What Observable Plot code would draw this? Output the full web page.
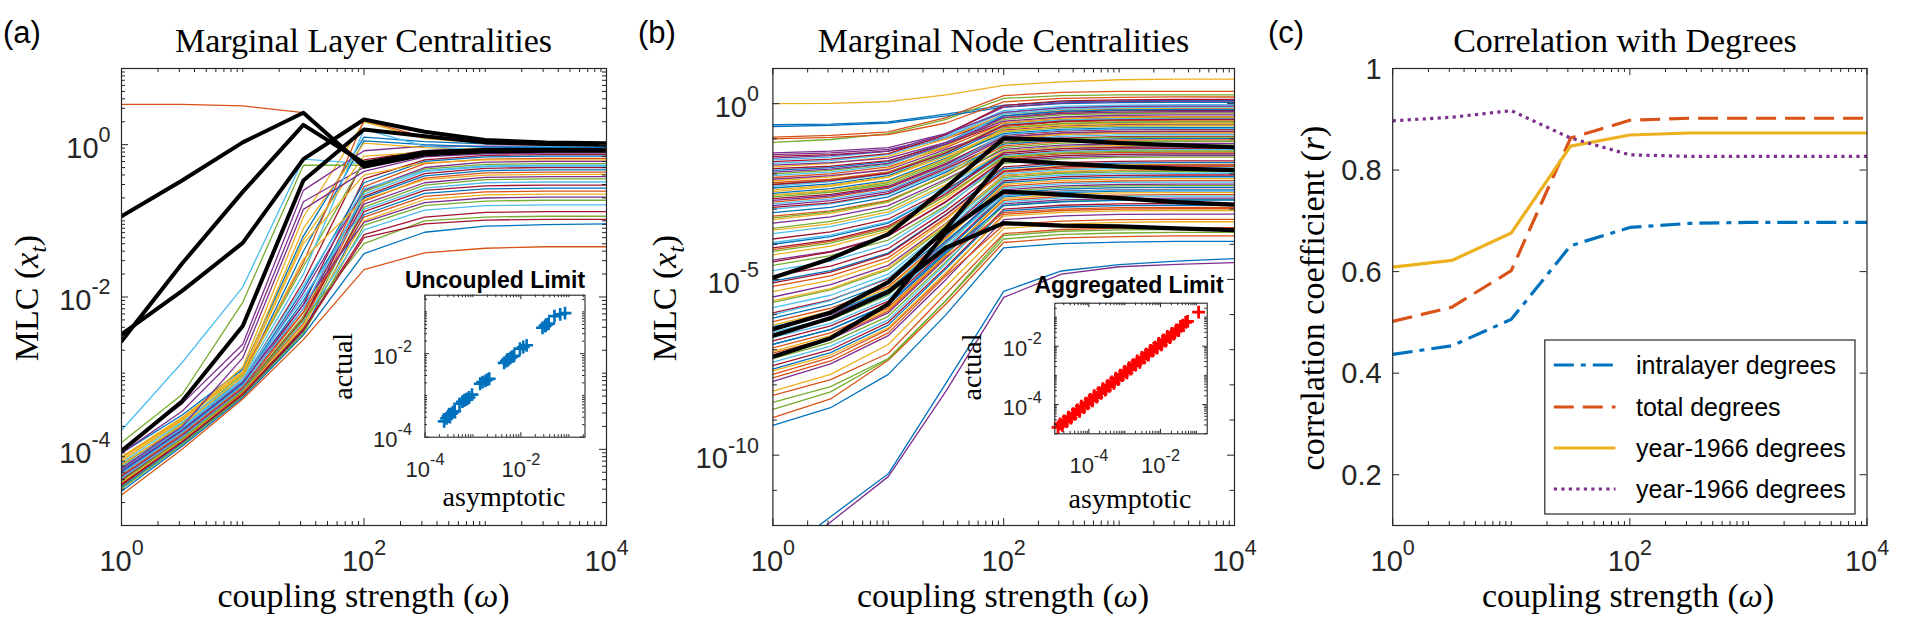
<!DOCTYPE html>
<html>
<head>
<meta charset="utf-8">
<script src="https://cdn.jsdelivr.net/npm/d3@7"></script>
<script src="https://cdn.jsdelivr.net/npm/@observablehq/plot@0.6"></script>
<style>
  html, body { margin: 0; padding: 0; background: #fff; }
  #fig { position: relative; width: 1915px; height: 636px; overflow: hidden; background: #fff; }
</style>
</head>
<body>
<div id="fig"></div>
<script>
// ---- shared coupling-strength grid ----
const omega = [1, 3.162, 10, 31.62, 100, 316.2, 1000, 3162, 10000];
const palette = ["#0072BD", "#D95319", "#EDB120", "#7E2F8E", "#77AC30", "#4DBEEE", "#A2142F"];

// ---- (a) marginal layer centralities, log10 values per layer ----
const layerLines = [
  [-4.05, -3.55, -2.95, -1.20, 0.10, 0.04, 0.01, 0.00, 0.00],
  [0.53, 0.53, 0.51, 0.42, -0.25, -0.12, -0.10, -0.10, -0.10],
  [-4.15, -3.62, -2.92, -0.95, 0.30, 0.08, 0.02, 0.01, 0.01],
  [-4.00, -3.40, -2.62, -0.60, -0.08, -0.02, -0.02, -0.02, -0.02],
  [-3.91, -3.28, -2.07, -0.27, -0.27, -0.10, -0.05, -0.04, -0.04],
  [-3.75, -2.86, -1.87, -0.19, -0.25, -0.08, -0.04, -0.03, -0.03],
  [-4.20, -3.70, -3.10, -1.80, -0.20, -0.08, -0.05, -0.05, -0.05],
  [-4.25, -3.72, -3.05, -1.40, 0.05, 0.00, -0.03, -0.04, -0.04],
  [-4.10, -3.60, -3.00, -1.55, 0.32, 0.10, 0.03, 0.01, 0.00],
  [-4.10, -3.58, -2.98, -1.10, 0.02, -0.04, -0.06, -0.06, -0.06],
  [-4.05, -3.50, -2.70, -0.75, -0.30, -0.12, -0.09, -0.09, -0.09],
  [-4.22, -3.66, -3.02, -1.60, -0.22, -0.12, -0.10, -0.10, -0.10],
  [-4.18, -3.64, -3.06, -1.70, 0.20, -0.02, -0.08, -0.09, -0.09],
  [-4.35, -3.80, -3.18, -2.10, -0.45, -0.20, -0.14, -0.13, -0.13],
  [-4.28, -3.74, -3.12, -1.90, -0.50, -0.22, -0.16, -0.15, -0.15],
  [-4.40, -3.85, -3.20, -2.20, -0.55, -0.25, -0.19, -0.18, -0.18],
  [-4.12, -3.60, -3.00, -1.30, -0.40, -0.24, -0.20, -0.20, -0.20],
  [-4.32, -3.78, -3.15, -1.95, -0.60, -0.30, -0.23, -0.22, -0.22],
  [-4.38, -3.82, -3.22, -2.25, -0.62, -0.32, -0.26, -0.25, -0.25],
  [-4.24, -3.70, -3.08, -1.85, -0.58, -0.34, -0.28, -0.27, -0.27],
  [-4.45, -3.88, -3.25, -2.30, -0.68, -0.38, -0.31, -0.30, -0.30],
  [-4.30, -3.76, -3.14, -2.05, -0.70, -0.41, -0.34, -0.33, -0.33],
  [-4.42, -3.86, -3.24, -2.35, -0.74, -0.44, -0.37, -0.36, -0.36],
  [-4.20, -3.68, -3.05, -1.50, -0.72, -0.46, -0.40, -0.39, -0.39],
  [-4.36, -3.82, -3.20, -2.15, -0.78, -0.50, -0.43, -0.42, -0.42],
  [-4.48, -3.90, -3.28, -2.40, -0.82, -0.53, -0.46, -0.45, -0.45],
  [-4.26, -3.72, -3.10, -2.00, -0.85, -0.57, -0.50, -0.49, -0.49],
  [-4.40, -3.84, -3.22, -2.28, -0.88, -0.60, -0.54, -0.53, -0.53],
  [-4.50, -3.92, -3.30, -2.45, -0.92, -0.64, -0.58, -0.57, -0.57],
  [-4.34, -3.80, -3.18, -2.20, -0.95, -0.68, -0.62, -0.61, -0.61],
  [-4.44, -3.88, -3.26, -2.38, -1.00, -0.72, -0.66, -0.65, -0.65],
  [-4.28, -3.75, -3.12, -2.10, -1.02, -0.76, -0.70, -0.69, -0.69],
  [-4.52, -3.94, -3.30, -2.48, -1.06, -0.80, -0.74, -0.73, -0.73],
  [-4.38, -3.84, -3.22, -2.32, -1.12, -0.86, -0.80, -0.79, -0.79],
  [-4.46, -3.90, -3.27, -2.42, -1.18, -0.95, -0.89, -0.88, -0.88],
  [-4.55, -3.96, -3.32, -2.50, -1.43, -1.15, -1.07, -1.05, -1.04],
  [-4.60, -4.00, -3.34, -2.56, -1.64, -1.42, -1.36, -1.34, -1.34],
  [-4.15, -3.62, -3.00, -1.25, -0.15, -0.10, -0.08, -0.07, -0.07],
  [-4.25, -3.70, -2.80, -0.85, -0.35, -0.16, -0.12, -0.11, -0.11],
  [-4.42, -3.86, -3.23, -2.30, -1.30, -1.00, -0.95, -0.94, -0.94],
  [-4.32, -3.78, -3.16, -2.15, -0.65, -0.35, -0.29, -0.28, -0.28],
  [-4.47, -3.90, -3.28, -2.44, -1.22, -1.04, -0.99, -0.98, -0.98]
];
const layerHighlight = [
  [-0.94, -0.47, 0.03, 0.42, -0.29, -0.13, -0.09, -0.08, -0.08],
  [-2.58, -1.56, -0.62, 0.26, -0.24, -0.10, -0.07, -0.07, -0.07],
  [-2.49, -1.92, -1.29, -0.19, 0.33, 0.17, 0.06, 0.03, 0.02],
  [-4.02, -3.37, -2.38, -0.47, 0.20, 0.11, 0.03, 0.01, 0.00]
];

// ---- (b) marginal node centralities, log10 values per node ----
const nodeLines = [
  [-0.60, -0.58, -0.52, -0.30, -0.05, 0.05, 0.08, 0.09, 0.09],
  [-0.95, -0.90, -0.80, -0.40, 0.23, 0.32, 0.35, 0.35, 0.35],
  [0.00, 0.01, 0.06, 0.25, 0.52, 0.62, 0.68, 0.70, 0.70],
  [-1.45, -1.40, -1.30, -0.95, -0.35, -0.20, -0.15, -0.14, -0.14],
  [-1.10, -1.02, -0.85, -0.45, 0.15, 0.23, 0.25, 0.25, 0.25],
  [-1.60, -1.52, -1.35, -0.90, -0.20, -0.08, -0.04, -0.03, -0.03],
  [-1.50, -1.45, -1.35, -1.00, -0.40, -0.25, -0.20, -0.19, -0.19],
  [-0.65, -0.62, -0.55, -0.35, -0.10, 0.00, 0.03, 0.04, 0.04],
  [-1.00, -0.96, -0.88, -0.55, 0.05, 0.15, 0.18, 0.19, 0.19],
  [-1.80, -1.70, -1.50, -1.00, -0.30, -0.18, -0.14, -0.13, -0.13],
  [-1.55, -1.48, -1.35, -0.85, -0.10, 0.02, 0.06, 0.07, 0.07],
  [-2.00, -1.90, -1.72, -1.20, -0.45, -0.32, -0.28, -0.27, -0.27],
  [-1.70, -1.62, -1.45, -0.95, -0.25, -0.12, -0.08, -0.07, -0.07],
  [-1.65, -1.58, -1.42, -0.88, -0.05, 0.08, 0.11, 0.12, 0.12],
  [-1.90, -1.82, -1.65, -1.10, -0.35, -0.22, -0.18, -0.17, -0.17],
  [-2.10, -2.00, -1.80, -1.25, -0.55, -0.42, -0.38, -0.37, -0.37],
  [-2.20, -2.08, -1.85, -1.20, -0.40, -0.28, -0.24, -0.23, -0.23],
  [-1.75, -1.68, -1.55, -1.10, -0.50, -0.38, -0.33, -0.32, -0.32],
  [-2.30, -2.18, -1.95, -1.35, -0.60, -0.48, -0.44, -0.43, -0.43],
  [-2.05, -1.95, -1.75, -1.15, -0.30, -0.16, -0.11, -0.10, -0.10],
  [-1.85, -1.78, -1.62, -1.15, -0.55, -0.44, -0.40, -0.39, -0.39],
  [-2.40, -2.28, -2.05, -1.45, -0.70, -0.58, -0.54, -0.53, -0.53],
  [-2.25, -2.15, -1.95, -1.40, -0.65, -0.52, -0.48, -0.47, -0.47],
  [-2.50, -2.35, -2.10, -1.40, -0.55, -0.43, -0.39, -0.38, -0.38],
  [-2.15, -2.05, -1.88, -1.30, -0.75, -0.64, -0.60, -0.59, -0.59],
  [-2.60, -2.48, -2.25, -1.60, -0.80, -0.68, -0.64, -0.63, -0.63],
  [-2.35, -2.22, -2.00, -1.40, -0.60, -0.47, -0.43, -0.42, -0.42],
  [-2.70, -2.58, -2.35, -1.70, -0.90, -0.78, -0.74, -0.73, -0.73],
  [-2.55, -2.42, -2.18, -1.55, -0.85, -0.73, -0.69, -0.68, -0.68],
  [-2.80, -2.66, -2.40, -1.75, -0.95, -0.84, -0.80, -0.79, -0.79],
  [-2.45, -2.32, -2.08, -1.50, -0.78, -0.66, -0.62, -0.61, -0.61],
  [-2.90, -2.76, -2.50, -1.80, -1.00, -0.88, -0.84, -0.83, -0.83],
  [-2.65, -2.52, -2.30, -1.65, -0.70, -0.56, -0.52, -0.51, -0.51],
  [-3.00, -2.85, -2.58, -1.90, -1.05, -0.93, -0.89, -0.88, -0.88],
  [-2.95, -2.82, -2.55, -1.85, -1.10, -0.98, -0.94, -0.93, -0.93],
  [-3.10, -2.95, -2.65, -1.95, -1.15, -1.04, -1.00, -0.99, -0.99],
  [-3.20, -3.05, -2.75, -2.05, -1.20, -1.08, -1.04, -1.03, -1.03],
  [-3.30, -3.12, -2.80, -2.00, -1.00, -0.88, -0.84, -0.83, -0.83],
  [-3.40, -3.22, -2.90, -2.15, -1.30, -1.18, -1.14, -1.13, -1.13],
  [-3.55, -3.35, -3.00, -2.20, -1.25, -1.12, -1.08, -1.07, -1.07],
  [-3.70, -3.50, -3.15, -2.35, -1.40, -1.28, -1.24, -1.23, -1.23],
  [-3.85, -3.65, -3.28, -2.45, -1.45, -1.33, -1.29, -1.28, -1.28],
  [-4.00, -3.78, -3.40, -2.50, -1.35, -1.22, -1.18, -1.17, -1.17],
  [-4.15, -3.92, -3.52, -2.62, -1.55, -1.43, -1.39, -1.38, -1.38],
  [-4.30, -4.05, -3.62, -2.70, -1.50, -1.37, -1.33, -1.32, -1.32],
  [-4.45, -4.20, -3.75, -2.80, -1.65, -1.53, -1.49, -1.48, -1.48],
  [-4.60, -4.32, -3.88, -2.90, -1.70, -1.57, -1.53, -1.52, -1.52],
  [-4.75, -4.48, -4.00, -2.95, -1.60, -1.48, -1.44, -1.43, -1.43],
  [-4.90, -4.62, -4.12, -3.05, -1.80, -1.68, -1.64, -1.63, -1.63],
  [-5.05, -4.75, -4.25, -3.15, -1.85, -1.73, -1.69, -1.68, -1.68],
  [-5.20, -4.90, -4.38, -3.25, -1.95, -1.84, -1.80, -1.79, -1.79],
  [-5.35, -5.02, -4.48, -3.30, -1.90, -1.78, -1.74, -1.73, -1.73],
  [-5.50, -5.15, -4.60, -3.40, -2.05, -1.94, -1.90, -1.89, -1.89],
  [-5.65, -5.30, -4.72, -3.48, -2.10, -1.98, -1.94, -1.93, -1.93],
  [-5.80, -5.45, -4.85, -3.55, -2.00, -1.88, -1.84, -1.83, -1.83],
  [-5.95, -5.58, -4.98, -3.65, -2.20, -2.08, -2.04, -2.03, -2.03],
  [-6.10, -5.72, -5.10, -3.75, -2.25, -2.13, -2.09, -2.08, -2.08],
  [-6.20, -5.82, -5.20, -3.80, -2.35, -2.24, -2.20, -2.19, -2.19],
  [-6.30, -5.90, -5.25, -3.85, -2.30, -2.18, -2.14, -2.13, -2.13],
  [-6.40, -6.00, -5.35, -3.95, -2.45, -2.34, -2.30, -2.29, -2.29],
  [-6.55, -6.15, -5.45, -4.00, -2.50, -2.38, -2.34, -2.33, -2.33],
  [-6.65, -6.25, -5.55, -4.10, -2.40, -2.28, -2.24, -2.23, -2.23],
  [-6.75, -6.32, -5.62, -4.15, -2.60, -2.49, -2.45, -2.44, -2.44],
  [-6.85, -6.42, -5.70, -4.20, -2.65, -2.53, -2.49, -2.48, -2.48],
  [-6.95, -6.52, -5.80, -4.30, -2.75, -2.64, -2.60, -2.59, -2.59],
  [-7.05, -6.60, -5.85, -4.30, -2.70, -2.58, -2.54, -2.53, -2.53],
  [-7.15, -6.70, -5.95, -4.40, -2.85, -2.74, -2.70, -2.69, -2.69],
  [-7.25, -6.80, -6.05, -4.50, -2.90, -2.78, -2.74, -2.73, -2.73],
  [-7.35, -6.90, -6.15, -4.55, -2.80, -2.68, -2.64, -2.63, -2.63],
  [-7.45, -7.00, -6.22, -4.65, -3.00, -2.89, -2.85, -2.84, -2.84],
  [-7.55, -7.08, -6.30, -4.70, -3.05, -2.94, -2.90, -2.89, -2.89],
  [-7.70, -7.22, -6.42, -4.85, -3.15, -3.04, -3.00, -2.99, -2.99],
  [-8.18, -7.70, -6.85, -5.20, -3.55, -3.43, -3.38, -3.36, -3.36],
  [-7.90, -7.40, -6.60, -5.00, -3.30, -3.19, -3.15, -3.14, -3.14],
  [-8.50, -8.05, -7.25, -5.60, -3.85, -3.72, -3.68, -3.66, -3.66],
  [-6.00, -5.60, -4.95, -3.60, -2.15, -2.03, -1.99, -1.98, -1.98],
  [-4.50, -4.22, -3.76, -2.78, -1.60, -1.48, -1.44, -1.43, -1.43],
  [-9.15, -8.65, -7.70, -6.00, -4.10, -3.98, -3.94, -3.92, -3.92],
  [-8.93, -8.40, -7.30, -5.70, -3.95, -3.82, -3.78, -3.76, -3.76],
  [-3.60, -3.42, -3.08, -2.30, -1.35, -1.23, -1.19, -1.18, -1.18],
  [-2.75, -2.62, -2.38, -1.72, -0.95, -0.83, -0.79, -0.78, -0.78],
  [-8.70, -8.20, -7.27, -5.60, -3.75, -3.63, -3.59, -3.58, -3.58],
  [-3.95, -3.74, -3.36, -2.50, -1.48, -1.36, -1.32, -1.31, -1.31],
  [-2.30, -2.19, -1.98, -1.40, -0.62, -0.50, -0.46, -0.45, -0.45],
  [-6.35, -5.96, -5.30, -3.90, -2.55, -2.43, -2.39, -2.38, -2.38],
  [-7.80, -7.32, -6.52, -4.90, -3.45, -3.34, -3.30, -3.29, -3.29],
  [-5.60, -5.26, -4.68, -3.42, -2.05, -1.93, -1.89, -1.88, -1.88],
  [-1.95, -1.86, -1.70, -1.15, -0.40, -0.28, -0.24, -0.23, -0.23],
  [-4.20, -3.97, -3.56, -2.62, -1.52, -1.40, -1.36, -1.35, -1.35],
  [-2.85, -2.71, -2.46, -1.78, -0.88, -0.76, -0.72, -0.71, -0.71],
  [-5.10, -4.79, -4.28, -3.16, -1.92, -1.80, -1.76, -1.75, -1.75],
  [-6.85, -6.42, -5.72, -4.25, -2.90, -2.79, -2.75, -2.74, -2.74],
  [-7.10, -6.66, -5.90, -4.35, -3.10, -3.00, -2.96, -2.95, -2.95],
  [-2.60, -2.47, -2.22, -1.58, -0.72, -0.60, -0.56, -0.55, -0.55],
  [-1.40, -1.35, -1.25, -0.85, -0.25, -0.12, -0.08, -0.07, -0.07],
  [-3.25, -3.08, -2.78, -2.05, -1.12, -1.00, -0.96, -0.95, -0.95],
  [-6.50, -6.10, -5.42, -3.98, -2.62, -2.50, -2.46, -2.45, -2.45],
  [-4.10, -3.88, -3.48, -2.56, -1.40, -1.28, -1.24, -1.23, -1.23],
  [-13.0, -11.75, -10.53, -7.95, -5.34, -4.76, -4.58, -4.48, -4.41],
  [-8.30, -7.85, -7.10, -5.40, -3.70, -3.58, -3.54, -3.53, -3.53],
  [-7.60, -7.15, -6.38, -4.80, -3.20, -3.09, -3.05, -3.04, -3.04],
  [-13.2, -11.9, -10.61, -8.18, -5.51, -4.85, -4.64, -4.57, -4.52]
];
const nodeHighlight = [
  [-4.95, -4.41, -3.71, -2.38, -0.99, -1.03, -1.12, -1.18, -1.24],
  [-6.42, -5.94, -5.08, -3.55, -1.60, -1.70, -1.79, -1.85, -1.89],
  [-7.20, -6.67, -5.70, -3.65, -2.50, -2.59, -2.69, -2.80, -2.87],
  [-6.60, -6.10, -5.35, -4.10, -3.40, -3.47, -3.49, -3.55, -3.60]
];

// ---- insets: log10 asymptotic vs actual ----
const uncoupledAsymptotic = [-3.60, -3.55, -3.52, -3.48, -3.45, -3.42, -3.38, -3.50, -3.28, -3.22, -3.18, -3.12, -3.08, -3.15, -3.02,
  -2.85, -2.80, -2.74, -2.70, -2.66, -2.35, -2.30, -2.26, -2.22, -2.18, -2.28, -2.14, -2.02, -1.95, -1.88,
  -1.55, -1.50, -1.46, -1.42, -1.48, -1.30, -1.18, -1.08];
const uncoupledActual = [-3.62, -3.55, -3.50, -3.52, -3.44, -3.40, -3.38, -3.45, -3.20, -3.15, -3.12, -3.08, -3.05, -3.10, -2.98,
  -2.72, -2.68, -2.65, -2.62, -2.60, -2.22, -2.18, -2.15, -2.10, -2.07, -2.14, -2.05, -1.88, -1.84, -1.80,
  -1.38, -1.34, -1.30, -1.28, -1.32, -1.10, -1.06, -1.03];
const aggregatedAsymptotic = [-4.86, -4.80, -4.74, -4.69, -4.62, -4.57, -4.50, -4.44, -4.39, -4.32, -4.26, -4.21, -4.14, -4.08,
  -4.03, -3.96, -3.90, -3.85, -3.78, -3.72, -3.66, -3.61, -3.54, -3.48, -3.43, -3.36, -3.30, -3.25, -3.18, -3.12,
  -3.07, -3.00, -2.94, -2.88, -2.83, -2.76, -2.70, -2.65, -2.58, -2.52, -2.47, -2.40, -2.34, -2.28, -2.23, -2.16,
  -2.10, -2.05, -1.98, -1.92, -1.86, -1.81, -1.74, -1.68, -1.63, -1.56, -1.50, -1.44, -1.38, -1.30, -1.25, -0.94];
const aggregatedActual = [-4.78, -4.66, -4.71, -4.56, -4.58, -4.43, -4.46, -4.31, -4.33, -4.18, -4.23, -4.05, -4.10, -3.95,
  -3.97, -3.82, -3.87, -3.69, -3.74, -3.59, -3.61, -3.45, -3.50, -3.35, -3.37, -3.22, -3.27, -3.09, -3.14, -2.99,
  -3.01, -2.86, -2.91, -2.73, -2.78, -2.63, -2.65, -2.50, -2.55, -2.38, -2.41, -2.27, -2.30, -2.14, -2.17, -2.03,
  -2.06, -1.90, -1.95, -1.78, -1.82, -1.66, -1.70, -1.56, -1.58, -1.44, -1.46, -1.32, -1.28, -1.18, -1.15, -0.83];

// ---- (c) correlation coefficients ----
const corrIntralayer = [0.437, 0.454, 0.506, 0.651, 0.687, 0.695, 0.697, 0.697, 0.697];
const corrTotal      = [0.502, 0.530, 0.602, 0.863, 0.898, 0.902, 0.902, 0.902, 0.902];
const corrYear       = [0.609, 0.622, 0.676, 0.847, 0.869, 0.873, 0.873, 0.873, 0.873];
const corrYearAlt    = [0.897, 0.904, 0.917, 0.863, 0.830, 0.827, 0.827, 0.827, 0.827];
const legendLabels = ["intralayer degrees", "total degrees", "year-1966 degrees", "year-1966 degrees"];

// ---- tick values ----
const omegaTicks = [1, 100, 10000];
const layerTicks = [1e-4, 1e-2, 1];
const nodeTicks = [1e-10, 1e-5, 1];
const corrTicks = [0.2, 0.4, 0.6, 0.8, 1];
const corrTickLabels = ["0.2", "0.4", "0.6", "0.8", "1"];
const insetTicks = [1e-4, 1e-2];
const panelTitles = ["Marginal Layer Centralities", "Marginal Node Centralities", "Correlation with Degrees"];
const panelTags = ["(a)", "(b)", "(c)"];

// ---------------------------------------------------------------
const fig = document.getElementById("fig");
const SANS = "'Liberation Sans', Arial, Helvetica, sans-serif";
const SERIF = "'Liberation Serif', 'Times New Roman', serif";
const INK = "#262626";
const pow10 = d => "10^" + Math.round(Math.log10(d));
const baseStyle = {fontFamily: SANS, color: INK, background: "none", overflow: "visible"};

function logMinor(lo, hi, majors, decadesOnly = false) {
  const out = [];
  for (let e = Math.floor(Math.log10(lo)); e <= Math.ceil(Math.log10(hi)); e++) {
    for (let k = 1; k <= (decadesOnly ? 1 : 9); k++) {
      const v = k * Math.pow(10, e);
      if (v >= lo * 0.999 && v <= hi * 1.001 && !majors.some(m => Math.abs(m - v) / v < 1e-6)) out.push(v);
    }
  }
  return out;
}

// inward ticks on all four sides of the frame
function boxTicks({W, H, xMaj, xMin, yMaj, yMin, major, minor}) {
  const o = {stroke: INK, strokeWidth: 1};
  return [
    Plot.tickX(xMaj, {...o, insetTop: H - major}),
    Plot.tickX(xMaj, {...o, insetBottom: H - major}),
    Plot.tickX(xMin, {...o, insetTop: H - minor}),
    Plot.tickX(xMin, {...o, insetBottom: H - minor}),
    Plot.tickY(yMaj, {...o, insetRight: W - major}),
    Plot.tickY(yMaj, {...o, insetLeft: W - major}),
    Plot.tickY(yMin, {...o, insetRight: W - minor}),
    Plot.tickY(yMin, {...o, insetLeft: W - minor})
  ];
}

// turn "10^k" tick labels into 10 with a raised exponent
function supify(svg, base) {
  d3.select(svg).selectAll("text").each(function () {
    const m = /^10\^(-?\d+)$/.exec(this.textContent);
    if (!m) return;
    const t = d3.select(this).text(null);
    t.append("tspan").text("10");
    t.append("tspan").attr("dy", -0.55 * base).attr("font-size", 0.74 * base).text(m[1]);
  });
}

function addText(svg, x, y, parts, {size, family = SERIF, anchor = "middle", rotate = 0, weight = "normal", fill = "#000"}) {
  const t = d3.select(svg).append("text")
    .attr("transform", `translate(${x},${y})` + (rotate ? ` rotate(${rotate})` : ""))
    .attr("text-anchor", anchor).attr("font-family", family).attr("font-size", size)
    .attr("font-weight", weight).attr("fill", fill);
  for (const p of [].concat(parts)) {
    const part = typeof p === "string" ? {t: p} : p;
    const s = t.append("tspan").text(part.t);
    if (part.it) s.attr("font-style", "italic");
    if (part.dy) s.attr("dy", part.dy);
    if (part.fs) s.attr("font-size", part.fs);
  }
  return t;
}

function place(svg, left, top) {
  svg.style.position = "absolute";
  svg.style.left = left + "px";
  svg.style.top = top + "px";
  fig.appendChild(svg);
  return svg;
}

const toRows = (lines, colorOf) =>
  lines.flatMap((vals, i) => vals.map((e, j) => ({series: i, w: omega[j], v: Math.pow(10, e), c: colorOf(i)})));

const mlcLabel = ["MLC (", {t: "x", it: true}, {t: "t", it: true, dy: 8, fs: 23}, {t: ")", dy: -8}];
const omegaLabel = ["coupling strength (", {t: "ω", it: true}, ")"];
const xMinor = logMinor(1, 1e4, omegaTicks);
const TOP = 68, BOTTOM = 111, FH = 636 - TOP - BOTTOM;

// ---------- panel (a) ----------
{
  const ml = 121, mr = 34, width = 640;
  const svg = Plot.plot({
    width, height: 636, marginLeft: ml, marginRight: mr, marginTop: TOP, marginBottom: BOTTOM,
    x: {type: "log", domain: [1, 1e4]},
    y: {type: "log", domain: [1e-5, 10]},
    color: {type: "identity"},
    style: baseStyle,
    marks: [
      Plot.line(toRows(layerLines, i => palette[i % 7]), {x: "w", y: "v", z: "series", stroke: d => d.c, strokeWidth: 1.3, clip: true}),
      Plot.line(toRows(layerHighlight, () => "#000"), {x: "w", y: "v", z: "series", stroke: "#000", strokeWidth: 4, clip: true}),
      ...boxTicks({W: width - ml - mr, H: FH, xMaj: omegaTicks, xMin: xMinor,
        yMaj: layerTicks, yMin: logMinor(1e-5, 10, layerTicks), major: 7, minor: 4}),
      Plot.frame({stroke: INK, strokeWidth: 1.2}),
      Plot.axisX({ticks: omegaTicks, tickSize: 0, tickPadding: 25, tickFormat: pow10, fontSize: 29, label: null}),
      Plot.axisY({ticks: layerTicks, tickSize: 0, tickPadding: 11, tickFormat: pow10, fontSize: 29, label: null, dy: 4})
    ]
  });
  supify(svg, 29);
  addText(svg, 3, 43, panelTags[0], {size: 31, family: SANS, anchor: "start"});
  addText(svg, 363.5, 52, panelTitles[0], {size: 34});
  addText(svg, 363.5, 607, omegaLabel, {size: 34});
  addText(svg, 38, 298, mlcLabel, {size: 34, rotate: -90});
  place(svg, 0, 0);
}

// ---------- panel (b) ----------
{
  const left = 630, ml = 142.4, mr = 26, width = 630;
  const svg = Plot.plot({
    width, height: 636, marginLeft: ml, marginRight: mr, marginTop: TOP, marginBottom: BOTTOM,
    x: {type: "log", domain: [1, 1e4]},
    y: {type: "log", domain: [1e-12, 10]},
    color: {type: "identity"},
    style: baseStyle,
    marks: [
      Plot.line(toRows(nodeLines, i => palette[i % 7]), {x: "w", y: "v", z: "series", stroke: d => d.c, strokeWidth: 1.3, clip: true}),
      Plot.line(toRows(nodeHighlight, () => "#000"), {x: "w", y: "v", z: "series", stroke: "#000", strokeWidth: 4.2, clip: true}),
      ...boxTicks({W: width - ml - mr, H: FH, xMaj: omegaTicks, xMin: xMinor,
        yMaj: nodeTicks, yMin: logMinor(1e-12, 10, nodeTicks, true), major: 7, minor: 4.5}),
      Plot.frame({stroke: INK, strokeWidth: 1.2}),
      Plot.axisX({ticks: omegaTicks, tickSize: 0, tickPadding: 25, tickFormat: pow10, fontSize: 29, label: null}),
      Plot.axisY({ticks: nodeTicks, tickSize: 0, tickPadding: 14, tickFormat: pow10, fontSize: 29, label: null, dy: 4})
    ]
  });
  supify(svg, 29);
  addText(svg, 8, 43, panelTags[1], {size: 31, family: SANS, anchor: "start"});
  addText(svg, 373.5, 52, panelTitles[1], {size: 34});
  addText(svg, 373, 607, omegaLabel, {size: 34});
  addText(svg, 45.5, 298, mlcLabel, {size: 34, rotate: -90});
  place(svg, left, 0);
}

// ---------- panel (c) ----------
{
  const left = 1265, ml = 127.2, mr = 48.5, width = 650;
  const series = [
    {values: corrIntralayer, color: "#0072BD", dash: "20,7,5,7"},
    {values: corrTotal, color: "#D95319", dash: "20,9"},
    {values: corrYear, color: "#EDB120", dash: null},
    {values: corrYearAlt, color: "#7E2F8E", dash: "3.2,4.3"}
  ];
  const svg = Plot.plot({
    width, height: 636, marginLeft: ml, marginRight: mr, marginTop: TOP, marginBottom: BOTTOM,
    x: {type: "log", domain: [1, 1e4]},
    y: {domain: [0.1, 1]},
    style: baseStyle,
    marks: [
      ...series.map(s => Plot.line(omega.map((w, i) => ({w, r: s.values[i]})),
        {x: "w", y: "r", stroke: s.color, strokeWidth: 3.2, strokeDasharray: s.dash, strokeLinecap: "butt", strokeLinejoin: "round"})),
      ...boxTicks({W: width - ml - mr, H: FH, xMaj: omegaTicks, xMin: xMinor,
        yMaj: corrTicks, yMin: [], major: 7, minor: 4}),
      Plot.frame({stroke: INK, strokeWidth: 1.2}),
      Plot.axisX({ticks: omegaTicks, tickSize: 0, tickPadding: 25, tickFormat: pow10, fontSize: 29, label: null}),
      Plot.axisY({ticks: corrTicks, tickSize: 0, tickPadding: 11, tickFormat: d => corrTickLabels[corrTicks.indexOf(d)], fontSize: 29, label: null, dy: 1})
    ]
  });
  supify(svg, 29);
  addText(svg, 3, 43, panelTags[2], {size: 31, family: SANS, anchor: "start"});
  addText(svg, 360, 52, panelTitles[2], {size: 34});
  addText(svg, 363, 607, omegaLabel, {size: 34});
  addText(svg, 59, 298, ["correlation coefficient (", {t: "r", it: true}, ")"], {size: 34, rotate: -90});

  // legend box
  const g = d3.select(svg).append("g");
  g.append("rect").attr("x", 279.8).attr("y", 340).attr("width", 310.2).attr("height", 174)
    .attr("fill", "#fff").attr("stroke", INK).attr("stroke-width", 1.2);
  const rowY = [365, 407, 448, 489];
  series.forEach((s, i) => {
    g.append("line").attr("x1", 288.8).attr("x2", 350.5).attr("y1", rowY[i]).attr("y2", rowY[i])
      .attr("stroke", s.color).attr("stroke-width", 3.2).attr("stroke-dasharray", s.dash)
      .attr("stroke-linecap", "butt");
    g.append("text").attr("x", 371).attr("y", rowY[i]).attr("dy", "0.35em")
      .attr("text-anchor", "start")
      .attr("font-family", SANS).attr("font-size", 25).attr("fill", "#000").text(legendLabels[i]);
  });
  place(svg, left, 0);
}

// ---------- inset of (a) ----------
{
  const left = 330, top = 250, width = 270, height = 280;
  const ml = 94.5, mr = 15.5, mt = 44.7, mb = 93.3;
  const xd = [1e-4, Math.pow(10, -0.663)], yd = [1e-4, Math.pow(10, -0.6)];
  const pts = uncoupledAsymptotic.map((a, i) => ({a: Math.pow(10, a), b: Math.pow(10, uncoupledActual[i])}));
  const svg = Plot.plot({
    width, height, marginLeft: ml, marginRight: mr, marginTop: mt, marginBottom: mb,
    x: {type: "log", domain: xd}, y: {type: "log", domain: yd},
    style: baseStyle,
    marks: [
      Plot.frame({fill: "#fff", stroke: "none"}),
      Plot.dot(pts, {x: "a", y: "b", symbol: "plus", r: 4.2, stroke: "#0072BD", strokeWidth: 2.6}),
      ...boxTicks({W: width - ml - mr, H: height - mt - mb, xMaj: insetTicks, xMin: logMinor(xd[0], xd[1], insetTicks),
        yMaj: insetTicks, yMin: logMinor(yd[0], yd[1], insetTicks), major: 4.5, minor: 2.5}),
      Plot.frame({stroke: INK, strokeWidth: 1.1}),
      Plot.axisX({ticks: insetTicks, tickSize: 0, tickPadding: 24, tickFormat: pow10, fontSize: 22, label: null}),
      Plot.axisY({ticks: insetTicks, tickSize: 0, tickPadding: 13, tickFormat: pow10, fontSize: 22, label: null, dy: 3})
    ]
  });
  supify(svg, 22);
  addText(svg, 165, 38, "Uncoupled Limit", {size: 23, family: SANS, weight: "bold"});
  addText(svg, 21.8, 116.3, "actual", {size: 28, rotate: -90});
  addText(svg, 174, 256, "asymptotic", {size: 28});
  place(svg, left, top);
}

// ---------- inset of (b) ----------
{
  const left = 960, top = 250, width = 270, height = 280;
  const ml = 94.3, mr = 23.3, mt = 52.7, mb = 96.7;
  const xd = [Math.pow(10, -4.95), Math.pow(10, -0.70)], yd = [1e-5, Math.pow(10, -0.525)];
  const pts = aggregatedAsymptotic.map((a, i) => ({a: Math.pow(10, a), b: Math.pow(10, aggregatedActual[i])}));
  const svg = Plot.plot({
    width, height, marginLeft: ml, marginRight: mr, marginTop: mt, marginBottom: mb,
    x: {type: "log", domain: xd}, y: {type: "log", domain: yd},
    style: baseStyle,
    marks: [
      Plot.frame({fill: "#fff", stroke: "none"}),
      Plot.dot(pts, {x: "a", y: "b", symbol: "plus", r: 4.2, stroke: "#FF0000", strokeWidth: 2.8}),
      ...boxTicks({W: width - ml - mr, H: height - mt - mb, xMaj: insetTicks, xMin: logMinor(xd[0], xd[1], insetTicks),
        yMaj: insetTicks, yMin: logMinor(yd[0], yd[1], insetTicks), major: 4.5, minor: 2.5}),
      Plot.frame({stroke: INK, strokeWidth: 1.1}),
      Plot.axisX({ticks: insetTicks, tickSize: 0, tickPadding: 24, tickFormat: pow10, fontSize: 22, label: null}),
      Plot.axisY({ticks: insetTicks, tickSize: 0, tickPadding: 13, tickFormat: pow10, fontSize: 22, label: null, dy: 3})
    ]
  });
  supify(svg, 22);
  addText(svg, 169, 43, "Aggregated Limit", {size: 23, family: SANS, weight: "bold"});
  addText(svg, 21, 117, "actual", {size: 28, rotate: -90});
  addText(svg, 170, 258, "asymptotic", {size: 28});
  place(svg, left, top);
}
</script>
</body>
</html>
